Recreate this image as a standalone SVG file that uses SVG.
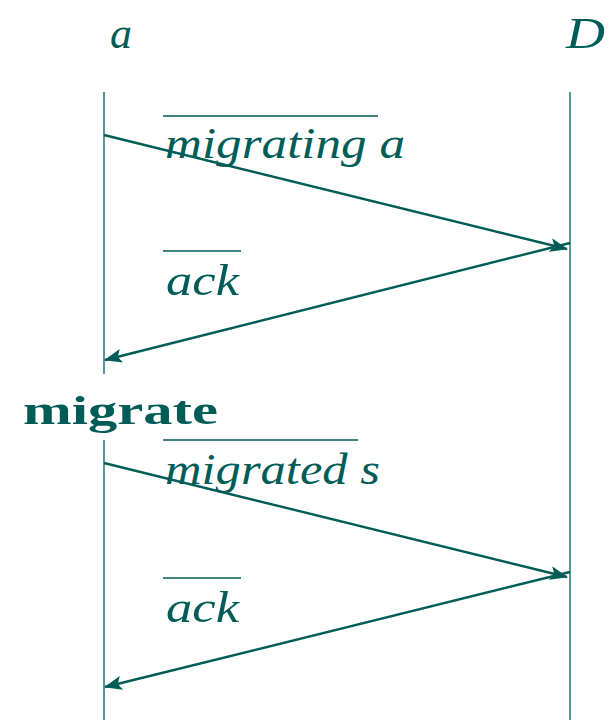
<svg xmlns="http://www.w3.org/2000/svg" width="612" height="720" viewBox="0 0 612 720">
  <style>
    .ink { fill: #005c57; }
    .life { stroke: #005c57; stroke-width: 1.3; fill: none; }
    .msg { stroke: #005c57; stroke-width: 2.4; fill: none; marker-end: url(#head); }
    .bar { stroke: #005c57; stroke-width: 1.6; }
    .math { font-family: "Liberation Serif", "DejaVu Serif", serif; font-style: italic; font-size: 44px; fill: #005c57; }
    .bold { font-family: "Liberation Serif", "DejaVu Serif", serif; font-weight: bold; font-size: 40px; fill: #005c57; }
  </style>
  <defs>
    <marker id="head" viewBox="0 0 18 14" refX="17" refY="7" markerWidth="18" markerHeight="14" markerUnits="userSpaceOnUse" orient="auto">
      <path d="M0,0 L18,7 L0,14 L4,7 Z" class="ink"/>
    </marker>
  </defs>

  <!-- lifelines -->
  <g id="lifeline-a">
    <text class="math" x="110" y="48">a</text>
    <line class="life" x1="104" y1="92" x2="104" y2="374"/>
    <line class="life" x1="104" y1="440" x2="104" y2="720"/>
  </g>
  <g id="lifeline-D">
    <text class="math" x="566" y="48" textLength="39" lengthAdjust="spacingAndGlyphs">D</text>
    <line class="life" x1="570" y1="92" x2="570" y2="720"/>
  </g>

  <!-- action on a -->
  <g id="action-migrate">
    <text class="bold" x="23" y="424" textLength="195" lengthAdjust="spacingAndGlyphs">migrate</text>
  </g>

  <!-- message labels -->
  <g id="label-migrating">
    <line class="bar" x1="163" y1="116" x2="378" y2="116"/>
    <text class="math" x="165" y="158" textLength="240" lengthAdjust="spacingAndGlyphs">migrating a</text>
  </g>
  <g id="label-ack-1">
    <line class="bar" x1="163" y1="251" x2="241" y2="251"/>
    <text class="math" x="166" y="295" textLength="73" lengthAdjust="spacingAndGlyphs">ack</text>
  </g>
  <g id="label-migrated">
    <line class="bar" x1="163" y1="440" x2="358" y2="440"/>
    <text class="math" x="165" y="484" textLength="215" lengthAdjust="spacingAndGlyphs">migrated s</text>
  </g>
  <g id="label-ack-2">
    <line class="bar" x1="163" y1="578" x2="241" y2="578"/>
    <text class="math" x="166" y="622" textLength="73" lengthAdjust="spacingAndGlyphs">ack</text>
  </g>

  <!-- messages -->
  <g id="connectors">
    <line class="msg" x1="104" y1="135" x2="567" y2="249"/>
    <line class="msg" x1="570" y1="243" x2="105" y2="360"/>
    <line class="msg" x1="104" y1="463" x2="567" y2="577"/>
    <line class="msg" x1="570" y1="572" x2="105" y2="687"/>
  </g>
</svg>
